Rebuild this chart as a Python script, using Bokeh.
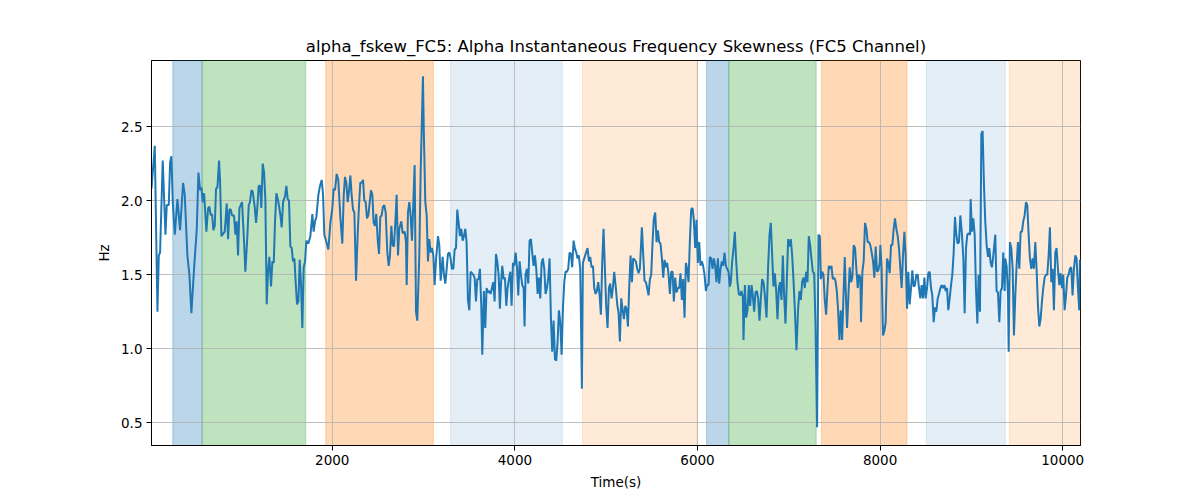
from bokeh.plotting import figure
from bokeh.models import BoxAnnotation, ColumnDataSource, FixedTicker, PrintfTickFormatter, Range1d
from bokeh.embed import file_html
from bokeh.resources import INLINE

# alpha instantaneous frequency skewness, FC5 channel
time_s = [
    20, 56, 85, 100, 114, 143, 173, 187, 209, 224, 238, 253, 275, 304, 333, 366, 384, 413, 435, 457,
    486, 516, 534, 552, 567, 581, 596, 621, 640, 654, 669, 683, 698, 713, 727, 742, 760, 771, 786, 808,
    822, 844, 859, 873, 888, 902, 924, 939, 953, 968, 983, 1012, 1034, 1048, 1070, 1085, 1099, 1114, 1129, 1150,
    1165, 1180, 1194, 1209, 1223, 1238, 1253, 1267, 1282, 1296, 1311,
    1329, 1344, 1359, 1373, 1388, 1410, 1432, 1446, 1461, 1483, 1497, 1512, 1526, 1541, 1556, 1570, 1585, 1599, 1614, 1629,
    1643, 1658, 1672, 1687, 1702, 1716, 1738, 1760, 1782, 1796, 1811, 1826, 1848, 1862, 1884, 1899, 1913, 1935, 1957, 1979,
    2001, 2015, 2030, 2048, 2066, 2088, 2110, 2125, 2139, 2154, 2169, 2183, 2198, 2212, 2227, 2242, 2260, 2278, 2293, 2307,
    2322, 2337, 2351, 2366, 2380, 2395, 2410, 2424, 2439, 2453, 2468, 2482, 2497, 2512, 2526, 2541, 2555, 2570, 2585,
    2603, 2618, 2632, 2647, 2661, 2676, 2691, 2705, 2720, 2734, 2756, 2771, 2793, 2807, 2815, 2829, 2844, 2858, 2873, 2888,
    2902, 2917, 2931, 2953, 2968, 2983, 2993, 3004, 3019, 3034, 3048, 3063, 3077, 3092, 3107, 3121, 3136, 3158, 3172, 3187,
    3209, 3223, 3238, 3253, 3267, 3282, 3296, 3311, 3326, 3340, 3355, 3369, 3384, 3398, 3413, 3428, 3442, 3457, 3471, 3486,
    3501, 3515, 3530, 3544, 3559, 3574, 3588, 3603, 3617, 3632, 3643, 3661, 3676, 3690, 3705, 3720, 3734, 3749, 3763, 3778,
    3793, 3807, 3822, 3836,
    3847, 3862, 3877, 3891, 3906, 3920, 3935, 3950, 3964, 3979, 3993, 4008, 4023, 4037, 4052, 4066, 4081, 4096, 4106, 4117,
    4132, 4147, 4161, 4176, 4190, 4205, 4220, 4234, 4249, 4263, 4278, 4293, 4307, 4322, 4336, 4351, 4366, 4380, 4395, 4409,
    4424, 4439, 4453, 4468, 4482, 4497, 4512, 4526, 4541, 4555, 4570, 4584, 4599, 4614, 4628, 4643, 4657, 4672, 4687, 4701,
    4716, 4734, 4745, 4760, 4774, 4796, 4811, 4825, 4840, 4855, 4869, 4884, 4898, 4913, 4928, 4942, 4957, 4971, 4986, 5000,
    5015, 5030, 5044, 5059, 5073, 5088,
    5106, 5121, 5136, 5150, 5165, 5179, 5194, 5209, 5223, 5238, 5252, 5267, 5282, 5296, 5311, 5325, 5340, 5355, 5369, 5391,
    5406, 5420, 5435, 5449, 5464, 5479, 5493, 5508, 5522, 5537, 5552, 5566, 5581, 5595, 5610, 5625, 5639, 5654, 5668, 5683,
    5698, 5712, 5727, 5741, 5756, 5771, 5785, 5800, 5814, 5829, 5843, 5858, 5873, 5887, 5902, 5916, 5931, 5946, 5960, 5975,
    5989, 6004, 6019, 6033, 6048, 6062, 6077, 6092, 6106, 6121, 6135, 6150, 6165, 6179, 6194, 6208, 6223, 6238, 6252, 6267,
    6282, 6296, 6311, 6325, 6340, 6354,
    6365, 6380, 6395, 6409, 6424, 6438, 6453, 6468, 6482, 6497, 6504, 6519, 6533, 6548, 6562, 6577, 6592, 6606, 6621, 6635,
    6650, 6665, 6679, 6694, 6708, 6723, 6738, 6756, 6774, 6789, 6803, 6818, 6832, 6847, 6862, 6876, 6891, 6905, 6920, 6935,
    6949, 6964, 6978, 6993, 7008, 7022, 7037, 7051, 7066, 7084, 7102, 7117, 7132, 7146, 7161, 7175, 7190, 7205, 7219, 7234,
    7248, 7263, 7278, 7292, 7310, 7325, 7340, 7351, 7365, 7380, 7394, 7409, 7424, 7438, 7453, 7467, 7482, 7497, 7511, 7526,
    7540, 7555, 7569, 7584, 7599, 7613,
    7623, 7638, 7653, 7667, 7682, 7696, 7711, 7726, 7740, 7755, 7769, 7784, 7791, 7806, 7820, 7835, 7850, 7864, 7879, 7893,
    7908, 7923, 7937, 7952, 7966, 7981, 7996, 8003, 8017, 8032, 8047, 8061, 8076, 8090, 8105, 8120, 8134, 8149, 8163, 8178,
    8193, 8207, 8222, 8236, 8251, 8266, 8280, 8295, 8309, 8324, 8339, 8353, 8368, 8382, 8397, 8412, 8426, 8441, 8455, 8470,
    8485, 8499, 8514, 8528, 8543, 8558, 8572, 8587, 8601, 8616, 8631, 8645, 8660, 8674, 8689, 8704, 8718, 8733, 8747, 8762,
    8777, 8791, 8806, 8820, 8835, 8849, 8864, 8879,
    8897, 8912, 8926, 8941, 8955, 8970, 8985, 8992, 9006, 9021, 9036, 9050, 9065, 9079, 9094, 9109, 9123, 9138, 9152, 9167,
    9182, 9196, 9211, 9225, 9240, 9262, 9276, 9291, 9306, 9320, 9335, 9349, 9364, 9371, 9386, 9401, 9408, 9422, 9437, 9452,
    9466, 9481, 9495, 9510, 9525, 9539, 9554, 9568, 9583, 9598, 9612, 9627, 9641, 9656, 9671, 9685, 9700, 9714, 9729, 9744,
    9758, 9773, 9787, 9802, 9817, 9831, 9846, 9860, 9875, 9890, 9904, 9919, 9933, 9948, 9963, 9977, 9992, 10006, 10021, 10035,
    10050, 10065, 10079, 10094, 10108, 10123, 10138, 10152, 10167, 10181, 10189, 10196,
]
skew_hz = [
    2.08, 2.37, 1.25, 1.63, 1.65, 2.27, 1.77, 1.97, 1.97, 2.26, 2.30, 1.99, 1.77, 2.01, 1.80, 2.12, 2.04, 1.63, 1.50, 1.24,
    1.54, 1.81, 2.19, 2.07, 2.09, 1.99, 2.05, 1.79, 1.95, 1.96, 1.90, 1.91, 1.80, 1.83, 2.08, 2.09, 2.27, 2.13, 1.76, 1.78,
    1.79, 1.98, 1.74, 1.94, 1.94, 1.90, 1.90, 1.77, 1.86, 1.63, 1.95, 1.99, 1.72, 1.52, 1.76, 1.97, 1.99, 2.07, 2.06, 1.96,
    1.85, 1.96, 2.10, 2.10, 1.95, 2.25, 2.19, 2.01, 1.30, 1.52, 1.62,
    1.42, 1.59, 1.58, 1.86, 2.05, 1.99, 1.90, 1.82, 1.99, 2.03, 2.10, 2.01, 2.00, 1.69, 1.68, 1.59, 1.61, 1.45, 1.30, 1.32,
    1.60, 1.43, 1.14, 1.55, 1.59, 1.73, 1.71, 1.76, 1.91, 1.79, 1.86, 1.89, 2.04, 2.09, 2.14, 2.04, 1.77, 1.72, 1.67, 1.85,
    1.95, 2.08, 2.07, 2.18, 2.14, 1.89, 1.71, 2.03, 2.16, 2.12, 1.99, 2.06, 2.17, 2.04, 1.94, 1.92, 1.46, 1.77, 1.97, 2.12,
    2.12, 2.14, 2.00, 1.99, 1.88, 1.90, 1.99, 2.07, 2.04, 1.85, 1.83, 1.91, 1.74, 1.64, 1.89, 1.90, 1.96, 1.97, 1.92,
    1.65, 1.56, 1.63, 1.83, 1.70, 1.69, 1.86, 2.04, 1.63, 1.81, 1.86, 1.78, 1.79, 1.72, 1.43, 1.92, 1.99, 1.90, 1.73, 1.99,
    2.24, 1.25, 1.19, 1.63, 2.19, 2.58, 2.84, 2.42, 1.99, 1.90, 1.59, 1.74, 1.65, 1.68, 1.63, 1.43, 1.60, 1.76, 1.70, 1.46,
    1.62, 1.50, 1.44, 1.54, 1.64, 1.65, 1.61, 1.54, 1.54, 1.67, 1.68, 1.94, 1.85, 1.76, 1.81, 1.73, 1.76, 1.81, 1.72, 1.33,
    1.26, 1.52, 1.51, 1.50, 1.48, 1.32, 1.47, 1.47, 1.54, 1.29, 0.96, 1.39, 1.14, 1.41, 1.38, 1.39, 1.37, 1.41, 1.45, 1.32,
    1.64, 1.59, 1.50, 1.27,
    1.43, 1.56, 1.47, 1.48, 1.29, 1.41, 1.47, 1.52, 1.29, 1.58, 1.56, 1.65, 1.55, 1.36, 1.59, 1.50, 1.43, 1.41, 1.15, 1.50,
    1.54, 1.44, 1.73, 1.74, 1.65, 1.56, 1.63, 1.54, 1.37, 1.48, 1.34, 1.58, 1.61, 1.54, 1.37, 1.41, 1.48, 1.61, 1.20, 0.98,
    1.19, 0.93, 0.92, 1.05, 1.26, 1.18, 0.96, 1.27, 1.45, 1.52, 1.52, 1.54, 1.65, 1.64, 1.55, 1.73, 1.68, 1.65, 1.61, 1.63,
    1.54, 0.73, 1.58, 1.61, 1.64, 1.68, 1.59, 1.62, 1.55, 1.56, 1.41, 1.37, 1.39, 1.45, 1.36, 1.23, 1.59, 1.81, 1.54, 1.29,
    1.14, 1.41, 1.44, 1.34, 1.41, 1.52,
    1.41, 1.30, 1.24, 1.05, 1.34, 1.27, 1.20, 1.29, 1.27, 1.15, 1.41, 1.63, 1.45, 1.61, 1.60, 1.59, 1.54, 1.51, 1.54, 1.82,
    1.63, 1.46, 1.45, 1.41, 1.36, 1.47, 1.50, 1.72, 1.88, 1.92, 1.72, 1.80, 1.72, 1.71, 1.61, 1.48, 1.60, 1.55, 1.58, 1.50,
    1.37, 1.52, 1.52, 1.32, 1.48, 1.38, 1.41, 1.41, 1.51, 1.33, 1.47, 1.21, 1.58, 1.54, 1.45, 1.72, 1.94, 1.95, 1.87, 1.68,
    1.87, 1.58, 1.72, 1.56, 1.59, 1.56, 1.50, 1.39, 1.43, 1.43, 1.62, 1.61, 1.54, 1.61, 1.56, 1.45, 1.61, 1.44, 1.54, 1.59,
    1.56, 1.65, 1.56, 1.54, 1.52, 1.42,
    1.45, 1.59, 1.68, 1.79, 1.59, 1.45, 1.37, 1.36, 1.39, 1.35, 1.06, 1.43, 1.21, 1.26, 1.43, 1.29, 1.43, 1.36, 1.25, 1.38,
    1.39, 1.34, 1.19, 1.34, 1.47, 1.45, 1.36, 1.21, 1.56, 1.77, 1.85, 1.63, 1.42, 1.51, 1.39, 1.20, 1.41, 1.45, 1.33, 1.63,
    1.36, 1.17, 1.45, 1.74, 1.69, 1.74, 1.63, 1.47, 1.27, 0.99, 1.27, 1.39, 1.33, 1.45, 1.48, 1.41, 1.52, 1.45, 1.76, 1.70,
    1.61, 1.52, 1.51, 1.18, 0.47, 1.77, 1.76, 1.47, 1.52, 1.50, 1.33, 1.23, 1.41, 1.56, 1.54, 1.56, 1.47, 1.48, 1.46, 1.39,
    1.26, 1.06, 1.26, 1.06, 1.36, 1.62,
    1.41, 1.14, 1.36, 1.55, 1.45, 1.48, 1.70, 1.68, 1.54, 1.41, 1.50, 1.48, 1.18, 1.52, 1.59, 1.85, 1.81, 1.72, 1.72, 1.70,
    1.65, 1.59, 1.48, 1.69, 1.52, 1.53, 1.58, 1.70, 1.54, 1.09, 1.12, 1.18, 1.61, 1.58, 1.51, 1.70, 1.70, 1.81, 1.88, 1.81,
    1.76, 1.68, 1.54, 1.41, 1.63, 1.79, 1.63, 1.27, 1.52, 1.30, 1.41, 1.53, 1.42, 1.43, 1.50, 1.50, 1.41, 1.34, 1.43, 1.34,
    1.48, 1.34, 1.41, 1.51, 1.52, 1.41, 1.36, 1.18, 1.28, 1.25, 1.34, 1.37, 1.41, 1.43, 1.41, 1.43, 1.39, 1.41, 1.26, 1.34,
    1.43, 1.50, 1.65, 1.89, 1.77, 1.71, 1.72, 1.90,
    1.77, 1.61, 1.24, 1.68, 1.77, 1.78, 1.77, 2.01, 1.79, 1.88, 1.77, 1.41, 1.17, 1.50, 1.25, 2.45, 2.47, 2.10, 1.86, 1.70,
    1.62, 1.68, 1.58, 1.55, 1.63, 1.77, 1.39, 1.38, 1.18, 1.39, 1.41, 1.65, 1.39, 1.61, 1.56, 1.36, 0.98, 1.72, 1.68, 1.54,
    1.09, 1.36, 1.56, 1.72, 1.54, 1.79, 1.79, 1.86, 1.90, 1.99, 1.97, 1.77, 1.61, 1.54, 1.61, 1.54, 1.72, 1.54, 1.29, 1.15,
    1.20, 1.32, 1.41, 1.48, 1.50, 1.50, 1.63, 1.82, 1.45, 1.54, 1.26, 1.65, 1.68, 1.54, 1.43, 1.51, 1.41, 1.50, 1.26, 1.35,
    1.48, 1.50, 1.54, 1.55, 1.36, 1.54, 1.63, 1.61, 1.41, 1.26, 1.60, 1.54,
]

# shaded phases along the recording
phase_start = [253, 574, 1928, 3296, 4741, 6099, 6343, 7358, 8506, 9415]
phase_end = [574, 1709, 3107, 4519, 5990, 6343, 7300, 8295, 9371, 10196]
phase_kind = ["a", "b", "c", "d", "e", "a", "b", "c", "d", "e"]

phase_style = {
    "a": ("#1f77b4", 0.3),
    "b": ("#2ca02c", 0.3),
    "c": ("#ff7f0e", 0.3),
    "d": ("#1f77b4", 0.12),
    "e": ("#ff7f0e", 0.16),
}

FONT = "DejaVu Sans"

p = figure(width=1192, height=492, output_backend="svg", toolbar_location=None,
           x_range=Range1d(20, 10195), y_range=Range1d(0.347, 2.946),
           title="alpha_fskew_FC5: Alpha Instantaneous Frequency Skewness (FC5 Channel)",
           min_border_left=151, min_border_right=112, min_border_top=60, min_border_bottom=47)

for start, end, kind in zip(phase_start, phase_end, phase_kind):
    color, alpha = phase_style[kind]
    p.add_layout(BoxAnnotation(left=start, right=end, fill_color=color, fill_alpha=alpha,
                               line_color=color, line_alpha=alpha, line_width=1, level="image"))

src = ColumnDataSource(data=dict(t=time_s, v=skew_hz))
p.line("t", "v", source=src, line_color="#1f77b4", line_width=2)

p.title.align = "center"
p.title.text_font = FONT
p.title.text_font_size = "16.5px"
p.title.text_font_style = "normal"
p.title.text_color = "black"

p.xaxis.ticker = FixedTicker(ticks=[2000, 4000, 6000, 8000, 10000])
p.yaxis.ticker = FixedTicker(ticks=[0.5, 1.0, 1.5, 2.0, 2.5])
p.yaxis.formatter = PrintfTickFormatter(format="%.1f")
p.xaxis.axis_label = "Time(s)"
p.yaxis.axis_label = "Hz"

for ax in (p.xaxis, p.yaxis):
    ax.axis_label_text_font = FONT
    ax.axis_label_text_font_size = "13.5px"
    ax.axis_label_text_font_style = "normal"
    ax.axis_label_text_color = "black"
    ax.axis_label_standoff = 6
    ax.major_label_text_font = FONT
    ax.major_label_text_font_size = "13.5px"
    ax.major_label_text_color = "black"
    ax.major_tick_out = 5
    ax.major_tick_in = 0
    ax.major_tick_line_color = "black"
    ax.minor_tick_line_color = None
    ax.axis_line_color = "black"
    ax.major_label_standoff = 4

p.grid.grid_line_color = "#b0b0b0"
p.grid.grid_line_width = 0.8
p.outline_line_color = "black"
p.outline_line_width = 1
p.outline_line_alpha = 1
p.background_fill_color = "white"
p.border_fill_color = "white"

open("out.html", "w").write(file_html(p, INLINE))
